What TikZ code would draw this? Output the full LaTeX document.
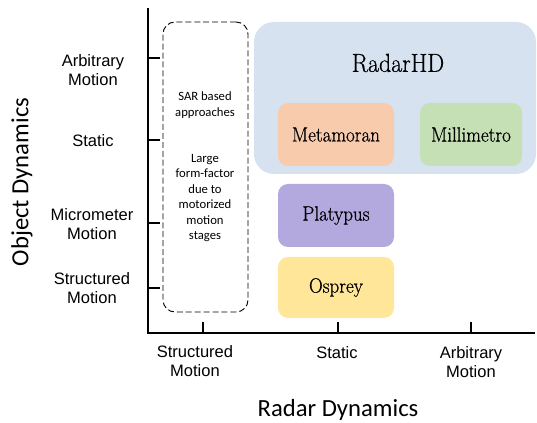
\documentclass[tikz,border=0pt]{standalone}
\usepackage{fontspec}
\newfontfamily\axisfont{Liberation Sans}
\newfontfamily\notefont{Carlito}
\newfontfamily\namefont[FakeBold=0.6,FakeStretch=0.92]{Latin Modern Roman}
\begin{document}
\begin{tikzpicture}[x=0.75pt,y=-0.75pt,
  axisline/.style={line width=1.5pt,line join=miter},
  ticklbl/.style={font=\axisfont\fontsize{12.4}{14}\selectfont,align=center,inner sep=0pt},
  axistitle/.style={font=\notefont\fontsize{18.5}{22}\selectfont,inner sep=0pt},
  notetxt/.style={font=\notefont\fontsize{9.5}{11.6}\selectfont,align=center,inner sep=0pt},
  sysbox/.style={rounded corners=7.5pt,inner sep=0pt,font=\namefont\fontsize{15.5}{18}\selectfont},
]
\useasboundingbox (0,0) rectangle (537,423);

% axes
\coordinate (ytop) at (148,8);
\coordinate (xend) at (535,333);
\draw[axisline] (ytop) |- (xend);

% y-axis ticks
\foreach \yy/\nm in {58/arb,140/sta,223/mic,288/str}{
  \coordinate (yt\nm) at (148,\yy);
  \coordinate (ye\nm) at (160,\yy);
  \draw[axisline] (yt\nm) -- (ye\nm);
}
% y-axis labels
\node[ticklbl] (ylarb) at (93,70) {Arbitrary\\Motion};
\node[ticklbl] (ylsta) at (93,141) {Static};
\node[ticklbl] (ylmic) at (92,224) {Micrometer\\Motion};
\node[ticklbl] (ylstr) at (92,288) {Structured\\Motion};

% x-axis ticks
\foreach \xx/\nm in {203/str,338/sta,471/arb}{
  \coordinate (xt\nm) at (\xx,333);
  \coordinate (xe\nm) at (\xx,322);
  \draw[axisline] (xt\nm) -- (xe\nm);
}
% x-axis labels
\node[ticklbl] (xlstr) at (195,361) {Structured\\Motion};
\node[ticklbl] (xlsta) at (337,353) {Static};
\node[ticklbl] (xlarb) at (471,362) {Arbitrary\\Motion};

% axis titles
\node[axistitle] (xtitle) at (338,410) {Radar Dynamics};
\node[axistitle,rotate=90] (ytitle) at (22,182) {Object Dynamics};

% SAR-based approaches
\node[draw,dashed,dash pattern=on 4.5pt off 2.2pt,line width=0.7pt,rounded corners=9pt,
      minimum width=0.75*85pt,minimum height=0.75*290pt] (sar) at (205.5,167) {};
\node[notetxt] (sartxt) at (205,105) {SAR based\\approaches};
\node[notetxt] (sarnote) at (205,198) {Large\\form-factor\\due to\\motorized\\motion\\stages};

% systems
\node[fill={rgb,255:red,214;green,226;blue,240},rounded corners=15pt,
      minimum width=0.75*282pt,minimum height=0.75*152pt] (radarhd) at (395,98) {};
\node[font=\namefont\fontsize{19.5}{22}\selectfont,inner sep=0pt] (radarhdlbl) at (398,63) {RadarHD};
\node[sysbox,fill={rgb,255:red,248;green,203;blue,173},
      minimum width=0.75*116pt,minimum height=0.75*63pt] (metamoran) at (336,134.5) {Metamoran};
\node[sysbox,fill={rgb,255:red,197;green,224;blue,180},
      minimum width=0.75*102pt,minimum height=0.75*63pt] (millimetro) at (471,134.5) {Millimetro};
\node[sysbox,fill={rgb,255:red,180;green,169;blue,222},
      minimum width=0.75*116pt,minimum height=0.75*63pt] (platypus) at (336,215.5) {Platypus};
\node[sysbox,fill={rgb,255:red,255;green,230;blue,153},
      minimum width=0.75*116pt,minimum height=0.75*61pt] (osprey) at (336,287.5) {Osprey};
\end{tikzpicture}
\end{document}
